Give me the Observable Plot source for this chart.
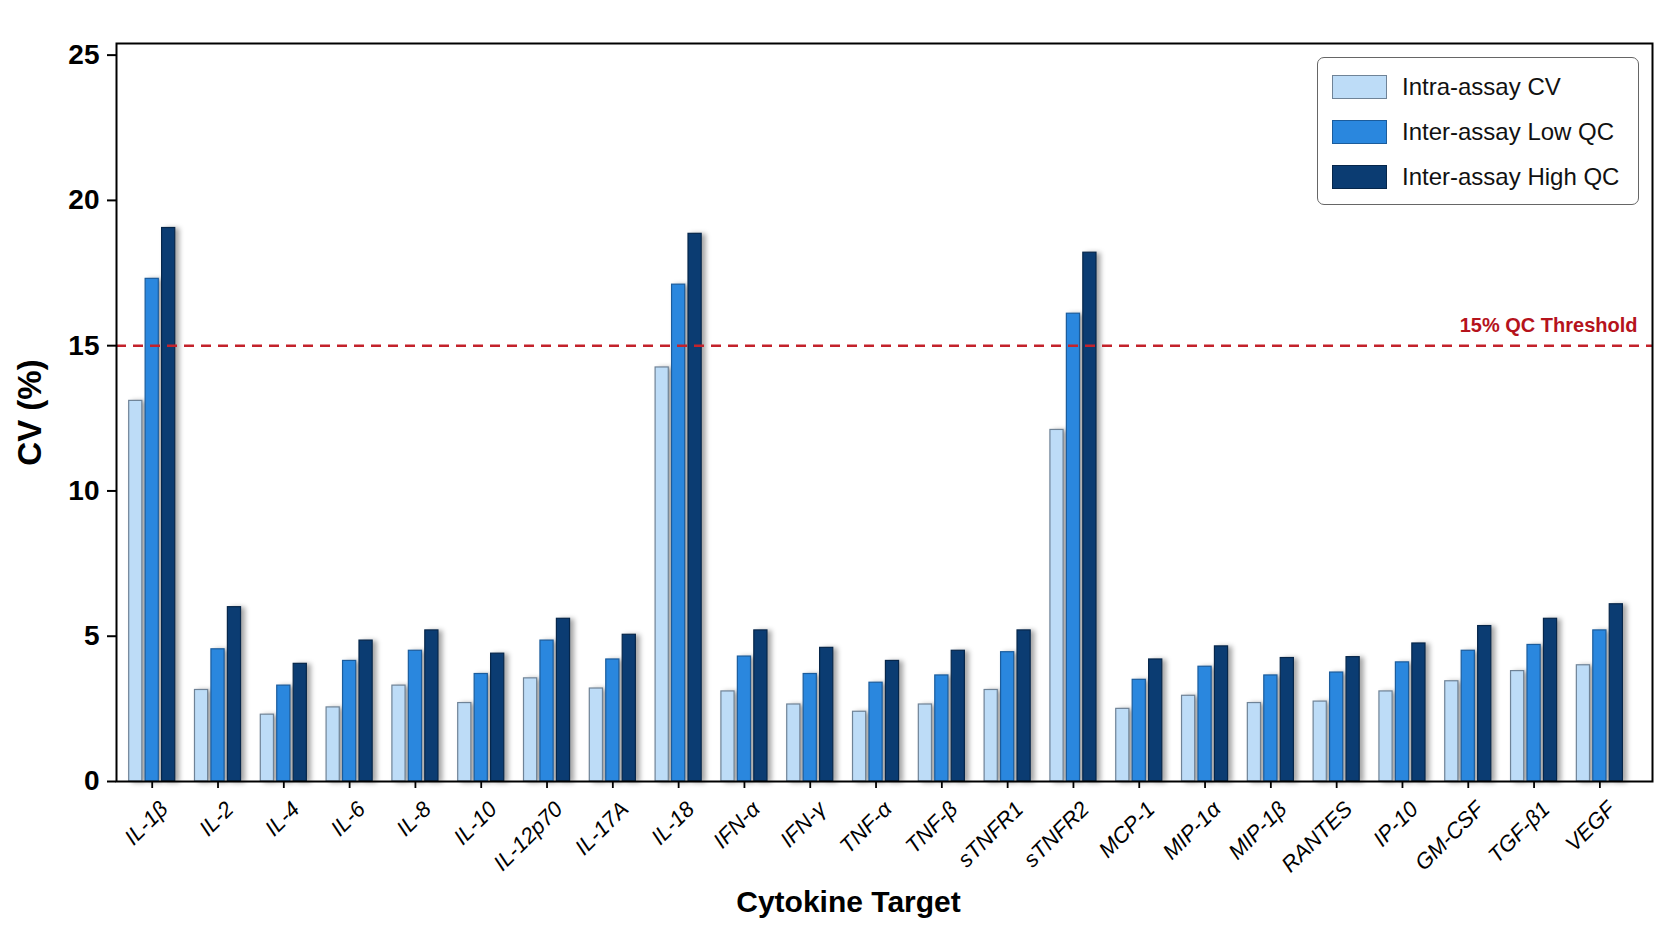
<!DOCTYPE html>
<html>
<head>
<meta charset="utf-8">
<script src="https://cdn.jsdelivr.net/npm/d3@7"></script>
<script src="https://cdn.jsdelivr.net/npm/@observablehq/plot@0.6"></script>
<style>
  body { margin: 0; background: #fff; }
  #wrap { position: relative; width: 1672px; height: 941px; font-family: "Liberation Sans", Arial, sans-serif; }
  #legend { position: absolute; left: 1317px; top: 57px; width: 322px; height: 148px; border: 1.5px solid #666; border-radius: 7px; background: #fff; box-sizing: border-box; }
  .row { position: absolute; left: 14px; height: 26px; display: flex; align-items: center; }
  .sw { width: 55px; height: 24px; box-sizing: border-box; border: 1.5px solid; margin-right: 15px; }
  .lab { font-size: 24px; color: #111; white-space: nowrap; }
</style>
</head>
<body>
<div id="wrap"></div>
<script>
const categories = ["IL-1β","IL-2","IL-4","IL-6","IL-8","IL-10","IL-12p70","IL-17A","IL-18","IFN-α","IFN-γ","TNF-α","TNF-β","sTNFR1","sTNFR2","MCP-1","MIP-1α","MIP-1β","RANTES","IP-10","GM-CSF","TGF-β1","VEGF"];
const seriesNames = ["Intra-assay CV","Inter-assay Low QC","Inter-assay High QC"];
const intraCV  = [13.1, 3.15, 2.3, 2.55, 3.3, 2.7, 3.55, 3.2, 14.25, 3.1, 2.65, 2.4, 2.65, 3.15, 12.1, 2.5, 2.95, 2.7, 2.75, 3.1, 3.45, 3.8, 4.0];
const lowQC    = [17.3, 4.55, 3.3, 4.15, 4.5, 3.7, 4.85, 4.2, 17.1, 4.3, 3.7, 3.4, 3.65, 4.45, 16.1, 3.5, 3.95, 3.65, 3.75, 4.1, 4.5, 4.7, 5.2];
const highQC   = [19.05, 6.0, 4.05, 4.85, 5.2, 4.4, 5.6, 5.05, 18.85, 5.2, 4.6, 4.15, 4.5, 5.2, 18.2, 4.2, 4.65, 4.25, 4.28, 4.75, 5.35, 5.6, 6.1];
const yTicks = [0, 5, 10, 15, 20, 25];
const threshold = 15;
const thresholdLabel = "15% QC Threshold";
const xTitle = "Cytokine Target";
const yTitle = "CV (%)";

const fills = ["#bddcf7", "#2a87de", "#0b3c72"];
const strokes = ["#6f8397", "#1b5c9c", "#06264a"];

// band slots: three bars per cytokine plus one empty spacer slot between groups
const SEP = "|";
const slotDomain = categories.flatMap((c, i) => {
  const slots = [0, 1, 2].map(k => c + SEP + k);
  return i < categories.length - 1 ? [...slots, c + SEP + "gap"] : slots;
});
const tickKeys = categories.map(c => c + SEP + 1);

const valuesBySeries = [intraCV, lowQC, highQC];
const rows = seriesNames.map((s, k) => categories.map((c, i) => ({key: c + SEP + k, cat: c, s, v: valuesBySeries[k][i]})));

const shadow = "drop-shadow(4px 1px 2.5px rgba(0,0,0,0.35))";

const chart = Plot.plot({
  width: 1672,
  height: 941,
  marginTop: 43,
  marginLeft: 116,
  marginRight: 20,
  marginBottom: 160,
  style: {fontFamily: "'Liberation Sans', Arial, sans-serif", background: "white", color: "#000", overflow: "visible"},
  x: {type: "band", domain: slotDomain, paddingInner: 0.2, paddingOuter: 1.285, align: 0.3, label: null},
  y: {domain: [0, 25.4], label: null},
  marks: [
    ...rows.map((r, k) => Plot.barY(r, {x: "key", y: "v", fill: fills[k], stroke: strokes[k], strokeWidth: 1.2, imageFilter: shadow})),
    Plot.ruleY([threshold], {stroke: "#c3222b", strokeWidth: 2.5, strokeDasharray: "10,7"}),
    Plot.text([threshold], {y: d => d, text: () => thresholdLabel, frameAnchor: "right", textAnchor: "end", dx: -15, dy: -20, fill: "#b5131c", fontSize: 20, fontWeight: "bold"}),
    Plot.frame({stroke: "#000", strokeWidth: 2}),
    Plot.axisY({ticks: yTicks, tickSize: 9, tickPadding: 8, fontSize: 28, fontWeight: "bold", strokeWidth: 2, label: null}),
    // tick marks only
    Plot.axisX({ticks: tickKeys, tickFormat: () => "", tickSize: 7, strokeWidth: 1.8, label: null}),
    // rotated tick labels only
    Plot.axisX({ticks: tickKeys, tickFormat: d => d.split(SEP)[0], tickRotate: -45, tickSize: 0, tickPadding: 13, dx: 12, dy: 11, fontSize: 22, fontStyle: "italic", label: null}),
    Plot.text([yTitle], {text: d => d, frameAnchor: "left", textAnchor: "middle", rotate: -90, dx: -86, fontSize: 33, fontWeight: "bold"}),
    Plot.text([xTitle], {text: d => d, frameAnchor: "bottom", textAnchor: "middle", dx: -36, dy: 130, fontSize: 30, fontWeight: "bold"})
  ]
});

const wrap = document.getElementById("wrap");
wrap.appendChild(chart);

const legend = document.createElement("div");
legend.id = "legend";
const rowTops = [16, 61, 106];
seriesNames.forEach((s, k) => {
  const row = document.createElement("div");
  row.className = "row";
  row.style.top = rowTops[k] + "px";
  const sw = document.createElement("div");
  sw.className = "sw";
  sw.style.background = fills[k];
  sw.style.borderColor = strokes[k];
  const lab = document.createElement("span");
  lab.className = "lab";
  lab.textContent = s;
  row.appendChild(sw);
  row.appendChild(lab);
  legend.appendChild(row);
});
wrap.appendChild(legend);
</script>
</body>
</html>
